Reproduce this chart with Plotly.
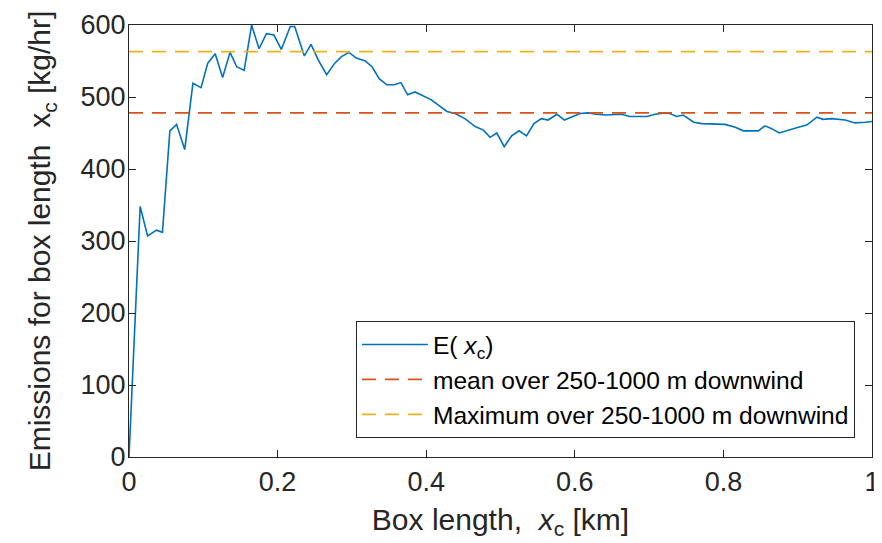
import plotly.graph_objects as go

# Box length x_c [km]
box_length_km = [0, 0.015, 0.025, 0.037, 0.045, 0.055, 0.064, 0.075, 0.086, 0.097,
                 0.106, 0.116, 0.126, 0.136, 0.145, 0.155, 0.165, 0.175, 0.185, 0.195,
                 0.205, 0.217, 0.223, 0.236, 0.245, 0.255, 0.266, 0.277, 0.286, 0.296,
                 0.306, 0.318, 0.327, 0.337, 0.347, 0.357, 0.366, 0.375, 0.385, 0.398,
                 0.407, 0.416, 0.428, 0.439, 0.452, 0.466, 0.477, 0.486, 0.495, 0.505,
                 0.515, 0.525, 0.535, 0.545, 0.555, 0.564, 0.576, 0.586, 0.596, 0.607,
                 0.618, 0.629, 0.641, 0.652, 0.663, 0.674, 0.688, 0.697, 0.708, 0.721,
                 0.728, 0.737, 0.746, 0.760, 0.771, 0.784, 0.802, 0.816, 0.827, 0.836,
                 0.847, 0.856, 0.865, 0.875, 0.887, 0.901, 0.912, 0.926, 0.934, 0.946,
                 0.964, 0.977, 0.991, 1.0]
# Emissions E(x_c) [kg/hr]
emissions = [0, 348, 307, 315, 312, 453, 462, 427, 519, 513,
             547, 560, 527, 562, 542, 537, 600, 567, 588, 586,
             566, 598, 598, 557, 573, 551, 531, 547, 556, 562,
             554, 550, 542, 525, 517, 517, 520, 503, 507, 500,
             496, 489, 480, 477, 470, 459, 454, 444, 450, 431,
             446, 453, 446, 463, 470, 468, 476, 468, 472, 477,
             478, 476, 475, 476, 476, 473, 473, 473, 476, 478,
             477, 473, 475, 465, 463, 463, 462, 458, 453, 453,
             453, 460, 456, 450, 454, 458, 461, 472, 469, 470,
             468, 464, 465, 466]
mean_250_1000 = 478
max_250_1000 = 563
x_span = [0, 1]
x_ticks = [0, 0.2, 0.4, 0.6, 0.8, 1]
x_tick_labels = ["0", "0.2", "0.4", "0.6", "0.8", "1"]
y_ticks = [0, 100, 200, 300, 400, 500, 600]

FONT = "Liberation Sans, Arial, Helvetica, sans-serif"
AX = "#262626"

fig = go.Figure()
fig.add_trace(go.Scatter(x=box_length_km, y=emissions, mode="lines",
                         line=dict(color="#0072BD", width=1.6),
                         name="E( <i>x</i><sub>c</sub>)"))
fig.add_trace(go.Scatter(x=x_span, y=[mean_250_1000] * 2, mode="lines",
                         line=dict(color="#D95319", width=1.8, dash="14px,9px"),
                         name="mean over 250-1000 m downwind"))
fig.add_trace(go.Scatter(x=x_span, y=[max_250_1000] * 2, mode="lines",
                         line=dict(color="#EDB120", width=1.8, dash="14px,9px"),
                         name="Maximum over 250-1000 m downwind"))

axis_common = dict(showline=True, linecolor=AX, linewidth=1.3, mirror="ticks",
                   ticks="inside", ticklen=7, tickcolor=AX, tickwidth=1,
                   showgrid=False, zeroline=False, automargin=False,
                   tickfont=dict(family=FONT, size=27, color=AX))

# The page body adds an 8px offset, so the figure is 8px smaller and margins compensate.
fig.update_layout(
    width=874, height=535,
    margin=dict(l=121, r=10, t=17, b=86),
    paper_bgcolor="white", plot_bgcolor="white",
    font=dict(family=FONT, color=AX),
    xaxis=dict(range=[0, 1], tickvals=x_ticks, ticktext=x_tick_labels,
               title=dict(text="Box length,  <i>x</i><sub>c</sub> [km]",
                          font=dict(family=FONT, size=30, color=AX), standoff=13),
               **axis_common),
    yaxis=dict(range=[0, 600], tickvals=y_ticks, ticklabelstandoff=-3,
               title=dict(text="Emissions for box length  x<sub>c</sub> [kg/hr]",
                          font=dict(family=FONT, size=30, color=AX), standoff=20),
               **axis_common),
    legend=dict(x=0.977, y=0.044, xanchor="right", yanchor="bottom",
                bgcolor="white", bordercolor=AX, borderwidth=1,
                font=dict(family=FONT, size=24.6, color="#000000"),
                tracegroupgap=0, itemwidth=66),
    showlegend=True,
)

fig.write_html("out.html")
